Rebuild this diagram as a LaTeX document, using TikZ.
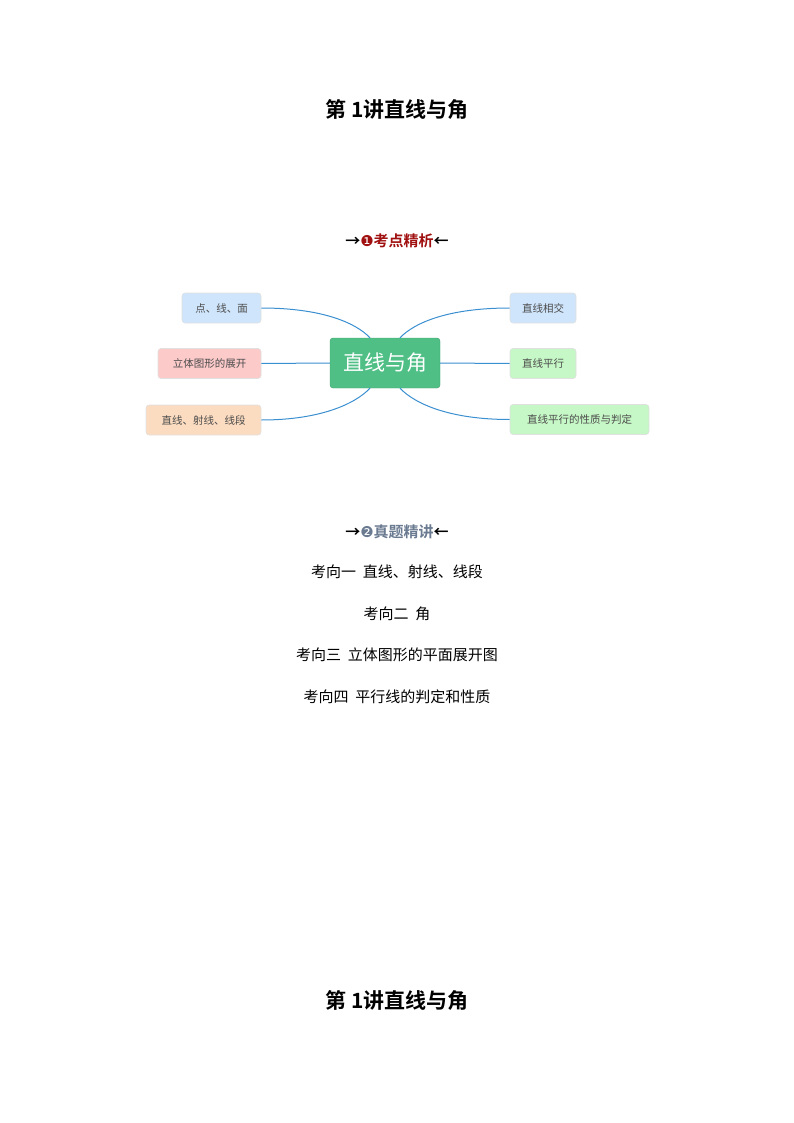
\documentclass[tikz,border=0pt]{standalone}
\usepackage{fontspec}
\newfontfamily\cjk{Noto Sans CJK SC}
\newfontfamily\cjkb{Noto Sans CJK SC Bold}
\newfontfamily\djvs{DejaVu Sans}
\definecolor{cgreen}{HTML}{4FBF85}
\definecolor{cline}{HTML}{3A8FD0}
\definecolor{cblue}{HTML}{CFE5FB}
\definecolor{cpink}{HTML}{FDCACA}
\definecolor{corange}{HTML}{FCDCC0}
\definecolor{clgreen}{HTML}{C6F7C6}
\definecolor{cred}{HTML}{A01010}
\definecolor{cgray}{HTML}{6A7A90}
\begin{document}
\begin{tikzpicture}[x=1pt,y=-1pt,
  leaf/.style={rounded corners=3pt,draw=black!12,line width=0.6pt,minimum height=30pt,inner xsep=0pt,font=\cjk\fontsize{10.5}{12}\selectfont,text=black!70},
  conn/.style={cline,line width=1pt},
  item/.style={font=\cjk\fontsize{15}{18}\selectfont}]
\useasboundingbox (0,0) rectangle (794,1123);
\node[font=\cjkb\fontsize{21}{24}\selectfont] (t1) at (397,110) {第 \textit{1}讲直线与角};
\node[font=\cjkb\fontsize{21}{24}\selectfont] (t2) at (397,1001) {第 \textit{1}讲直线与角};
\node[font=\cjkb\fontsize{15}{18}\selectfont,text=cred] (h1) at (397,241) {{\color{black}→}{\djvs ❶}考点精析{\color{black}←}};
\node[font=\cjkb\fontsize{15}{18}\selectfont,text=cgray] (h2) at (397,532) {{\color{black}→}{\djvs ❷}真题精讲{\color{black}←}};
\node[rounded corners=3pt,fill=cgreen,draw=cgreen!85!black,minimum width=110pt,minimum height=50pt,text=white,font=\cjk\fontsize{21}{24}\selectfont] (c) at (385,363) {直线与角};
\node[leaf,fill=cblue,minimum width=79pt] (l1) at (221.5,308) {点、线、面};
\node[leaf,fill=cpink,minimum width=103pt] (l2) at (209.5,363.5) {立体图形的展开};
\node[leaf,fill=corange,minimum width=115pt] (l3) at (203.5,420) {直线、射线、线段};
\node[leaf,fill=cblue,minimum width=66pt] (r1) at (543,308) {直线相交};
\node[leaf,fill=clgreen,minimum width=66pt] (r2) at (543,363.5) {直线平行};
\node[leaf,fill=clgreen,minimum width=139pt] (r3) at (579.5,419.5) {直线平行的性质与判定};
\draw[conn] (l1.east) .. controls (320,308) and (355,322) .. ([xshift=-15pt]c.north);
\draw[conn] (l3.east) .. controls (320,420) and (355,404) .. ([xshift=-15pt]c.south);
\draw[conn] (l2.east) -- (c.west);
\draw[conn] (r1.west) .. controls (450,308) and (415,322) .. ([xshift=15pt]c.north);
\draw[conn] (r3.west) .. controls (450,419.5) and (415,404) .. ([xshift=15pt]c.south);
\draw[conn] (r2.west) -- (c.east);
\node[item] (k1) at (397,572) {考向一\ \ 直线、射线、线段};
\node[item] (k2) at (397,614) {考向二\ \ 角};
\node[item] (k3) at (397,655) {考向三\ \ 立体图形的平面展开图};
\node[item] (k4) at (397,697) {考向四\ \ 平行线的判定和性质};
\end{tikzpicture}
\end{document}
